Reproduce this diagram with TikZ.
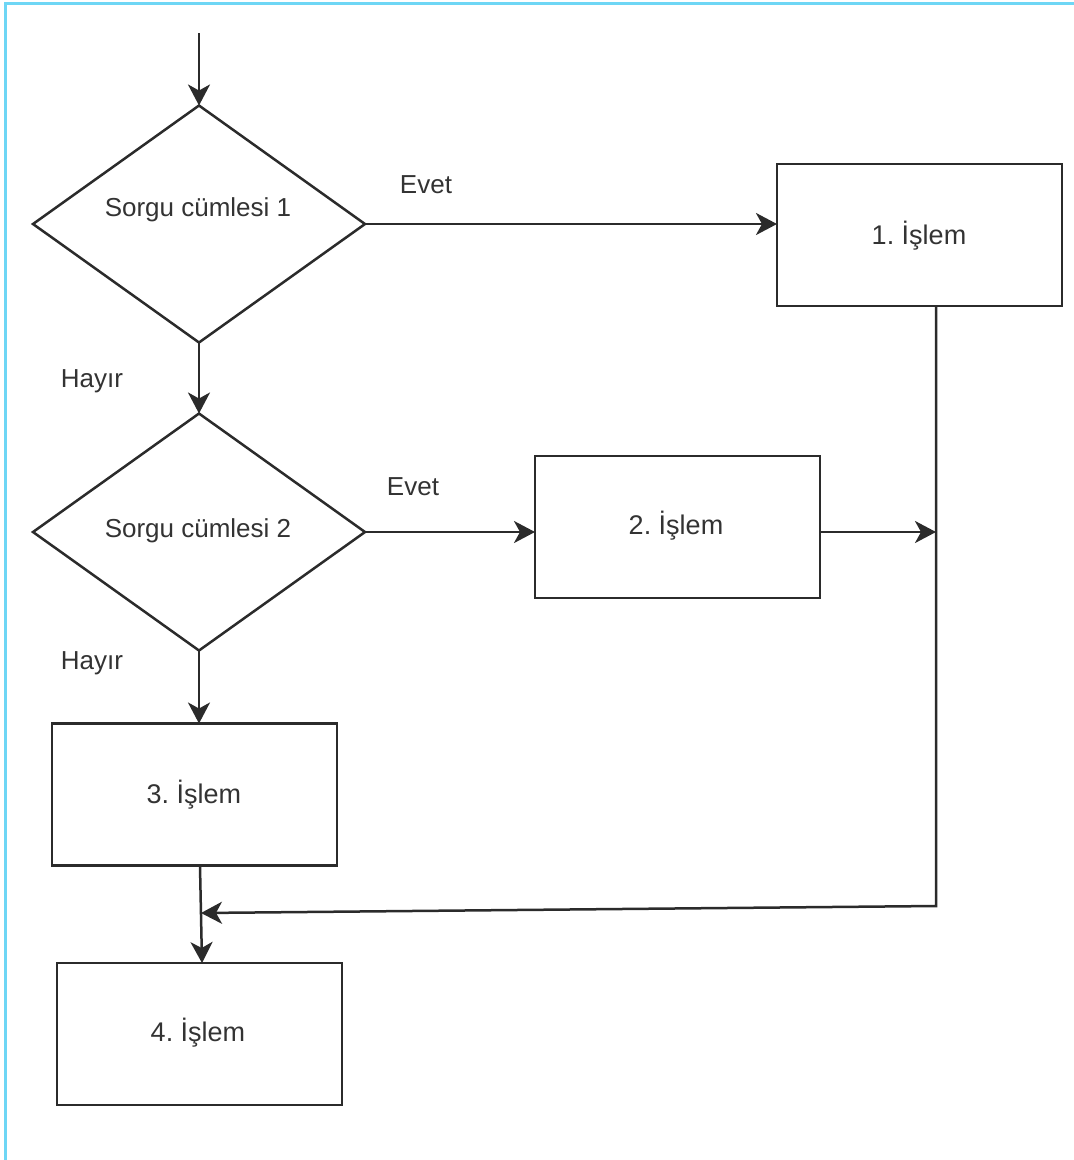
\documentclass[tikz,border=0pt]{standalone}
\usepackage{fontspec}
\setmainfont{Liberation Sans}
\usetikzlibrary{shapes.geometric,arrows.meta,calc}
\definecolor{ink}{HTML}{2B2B2B}
\definecolor{inktext}{HTML}{333333}
\definecolor{frame}{HTML}{6ED6F5}
\frenchspacing
\begin{document}
\begin{tikzpicture}[x=1pt,y=-1pt,
  line width=2.5pt, draw=ink,
  txt/.style={text=inktext,font=\fontsize{26}{30}\selectfont,inner sep=0pt},
  boxtxt/.style={text=inktext,font=\fontsize{27}{31}\selectfont,inner sep=0pt},
  decision/.style={diamond,draw=ink,line width=2.5pt,minimum width=332pt,minimum height=237pt,inner sep=0pt,outer sep=0pt},
  process/.style={rectangle,draw=ink,line width=2.5pt,minimum width=285pt,minimum height=142pt,inner sep=0pt,outer sep=0pt},
  arr/.style={draw=ink,line width=2.5pt,-{Stealth[length=21pt,width=22pt,inset=6pt]}},
  ln/.style={draw=ink,line width=2.5pt}]
\useasboundingbox (0,0) rectangle (1074,1160);
\draw[frame,line width=3pt] (5,1160) -- (5,3) -- (1074,3);

\node[decision] (d1) at (199,224) {};
\node[txt] (t1) at (198,210) {Sorgu cümlesi 1};
\node[decision] (d2) at (199,532) {};
\node[txt] (t2) at (198,531) {Sorgu cümlesi 2};

\node[process] (b1) at (919.5,235) {};
\node[boxtxt] (bt1) at (919,236) {1. İşlem};
\node[process] (b2) at (677.5,527) {};
\node[boxtxt] (bt2) at (676,526) {2. İşlem};
\node[process] (b3) at (194.5,794.5) {};
\node[boxtxt] (bt3) at (194,795) {3. İşlem};
\node[process] (b4) at (199.5,1034) {};
\node[boxtxt] (bt4) at (198,1033) {4. İşlem};

\node[txt] (e1) at (426,185) {Evet};
\node[txt] (e2) at (413,487) {Evet};
\node[txt] (h1) at (92,381) {Hayır};
\node[txt] (h2) at (92,663) {Hayır};

\coordinate (start) at (199,33);
\coordinate (corner) at (936,906);
\coordinate (merge) at (201,913);
\coordinate (b3out) at (200,866);
\coordinate (b4in) at (202,963);

\draw[arr] (start) -- (d1.north);
\draw[arr] (d1.east) -- (d1.east -| b1.west);
\draw[arr] (d1.south) -- (d2.north);
\draw[arr] (d2.east) -- (d2.east -| b2.west);
\draw[arr] ($(b2.east)+(0,5)$) -- ($(b2.east -| corner)+(0,5)$);
\draw[arr] (d2.south) -- (d2.south |- b3.north);
\draw[arr] (b1.south -| corner) -- (corner) -- (merge);
\draw[arr] (b3out) -- (b4in);
\end{tikzpicture}
\end{document}
